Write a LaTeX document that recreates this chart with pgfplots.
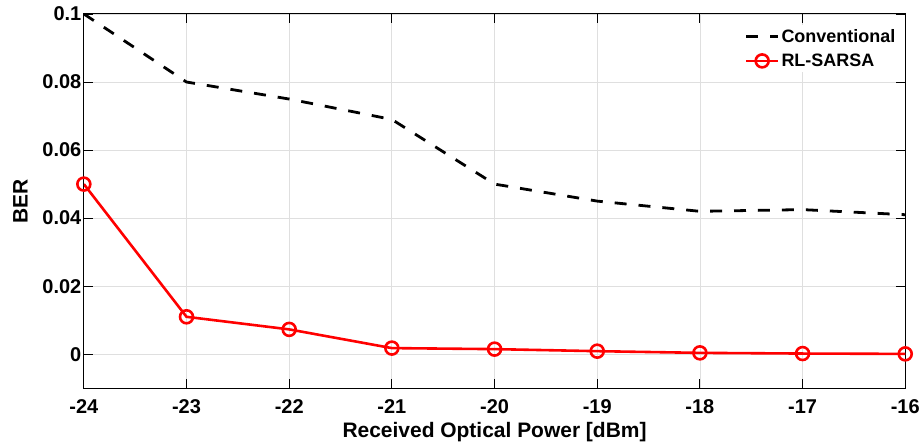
\documentclass[border=0pt]{standalone}
\usepackage{pgfplots}
\pgfplotsset{compat=1.18}
\usepackage{fontspec}
\setmainfont{Liberation Sans}
\begin{document}
\begin{tikzpicture}
\begin{axis}[
  scale only axis,
  width=823pt, height=375pt,
  xmin=-24, xmax=-16, ymin=-0.01, ymax=0.1,
  xtick={-24,-23,...,-16},
  ytick={0,0.02,0.04,0.06,0.08,0.1},
  yticklabel style={/pgf/number format/fixed,/pgf/number format/precision=2, xshift=1pt},
  scaled y ticks=false,
  /pgf/number format/assume math mode=true,
  tick label style={font=\fontsize{20}{23}\selectfont\bfseries},
  xticklabel style={yshift=-8pt},
  label style={font=\fontsize{21}{24}\selectfont\bfseries},
  xlabel={Received Optical Power [dBm]},
  ylabel={BER},
  xlabel style={inner sep=2pt, yshift=-3pt},
  ylabel shift=8pt,
  grid=major,
  major grid style={gray!25, line width=0.8pt},
  tick align=inside,
  major tick length=9pt,
  tick style={black, line width=0.9pt},
  x axis line style={gray!70!black, line width=1pt},
  y axis line style={black, line width=1pt},
  legend style={draw=none, fill=white, at={(0.993,0.97)}, anchor=north east,
    font=\fontsize{18}{21}\selectfont\bfseries, row sep=6pt, inner sep=2pt},
  legend cell align=left,
  legend image code/.code={\draw[mark repeat=2,mark phase=2,#1] plot coordinates {(0pt,0pt) (16pt,0pt) (32pt,0pt)};},
]
\addplot[black, line width=2.8pt, dash pattern=on 12pt off 12pt] coordinates {
(-24,0.1) (-23,0.080) (-22,0.075) (-21,0.069) (-20,0.050) (-19,0.045) (-18,0.042) (-17,0.0425) (-16,0.041)};
\addlegendentry{Conventional}
\addplot[red, line width=2.6pt, mark=o, mark size=6.5pt, mark options={line width=2.6pt, solid}] coordinates {
(-24,0.050) (-23,0.011) (-22,0.0073) (-21,0.0018) (-20,0.0015) (-19,0.0009) (-18,0.0004) (-17,0.0002) (-16,0.0001)};
\addlegendentry{RL-SARSA}
\end{axis}
\path ([xshift=-84pt]current axis.south west);
\path ([yshift=14pt]current axis.north west);
\end{tikzpicture}
\end{document}
